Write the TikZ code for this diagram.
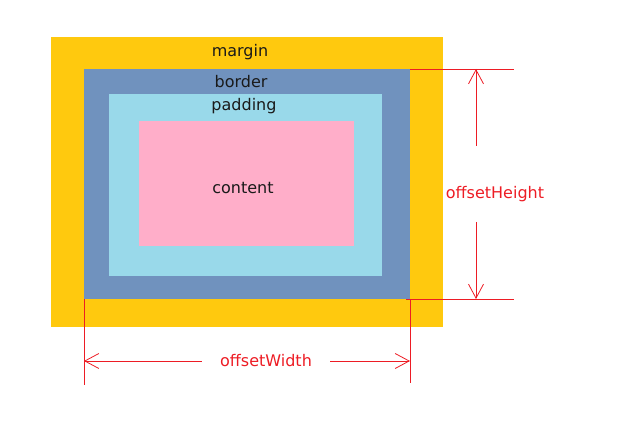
\documentclass[tikz,border=0pt]{standalone}
\usepackage{fontspec}
\setmainfont{DejaVu Sans}
\usepackage{xcolor}
\usetikzlibrary{arrows.meta}
\definecolor{marginYellow}{HTML}{FFC90E}
\definecolor{borderBlue}{HTML}{7092BE}
\definecolor{paddingBlue}{HTML}{99D9EA}
\definecolor{contentPink}{HTML}{FFAEC9}
\definecolor{dimRed}{HTML}{ED1C24}
\definecolor{labelGray}{HTML}{1A1A1A}

\begin{document}
\begin{tikzpicture}[
        x=1pt, y=-1pt,
        font=\fontsize{16}{19}\selectfont,
        boxlabel/.style={text=labelGray, inner sep=0pt},
        dimlabel/.style={text=dimRed, inner sep=0pt},
        dimline/.style={draw=dimRed, line width=0.8pt},
        dimarrow/.style={dimline, -{Straight Barb[length=14pt,width=15pt,line width=0.8pt]}}
    ]
        \useasboundingbox (0,0) rectangle (618,443);

        % =====================================================
        % CAJAS
        % =====================================================

        % Margin
        \fill[marginYellow] (51,37) rectangle (443,327);
        \node[boxlabel] (marginLabel) at (240,52) {margin};

        % Border
        \fill[borderBlue] (84,69) rectangle (410,299);
        \node[boxlabel] (borderLabel) at (241,82) {border};

        % Padding
        \fill[paddingBlue] (109,94) rectangle (382,276);
        \node[boxlabel] (paddingLabel) at (244,106) {padding};

        % Content
        \fill[contentPink] (139,121) rectangle (354,246);
        \node[boxlabel] (contentLabel) at (243,188) {content};

        % =====================================================
        % OFFSETHEIGHT
        % =====================================================

        \coordinate (hExtTopA) at (410,69);
        \coordinate (hExtTopB) at (514,69);
        \coordinate (hExtBotA) at (406,299);
        \coordinate (hExtBotB) at (514,299);
        \coordinate (hTop) at (476,69);
        \coordinate (hBot) at (476,299);
        \coordinate (hTopGap) at (476,146);
        \coordinate (hBotGap) at (476,222);

        \draw[dimline] (hExtTopA) -- (hExtTopB);
        \draw[dimline] (hExtBotA) -- (hExtBotB);
        \draw[dimarrow] (hTopGap) -- (hTop);
        \draw[dimarrow] (hBotGap) -- (hBot);

        \node[dimlabel] (heightLabel) at (495,194) {offsetHeight};

        % =====================================================
        % OFFSETWIDTH
        % =====================================================

        \coordinate (wExtLeftA) at (84,299);
        \coordinate (wExtLeftB) at (84,385);
        \coordinate (wExtRightA) at (410,299);
        \coordinate (wExtRightB) at (410,383);
        \coordinate (wLeft) at (84,361);
        \coordinate (wRight) at (410,361);

        \node[dimlabel, inner xsep=18pt] (widthLabel) at (266,361) {offsetWidth};

        \draw[dimline] (wExtLeftA) -- (wExtLeftB);
        \draw[dimline] (wExtRightA) -- (wExtRightB);
        \draw[dimarrow] (widthLabel.west) -- (wLeft);
        \draw[dimarrow] (widthLabel.east) -- (wRight);

    \end{tikzpicture}
\end{document}
